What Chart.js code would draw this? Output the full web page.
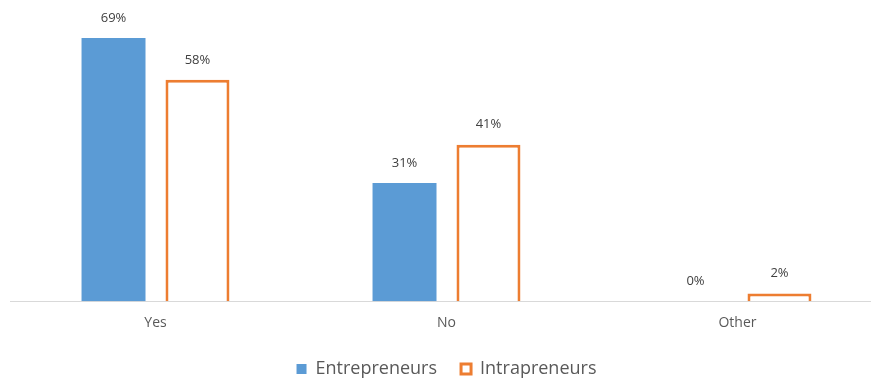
<!DOCTYPE html>
<html>
<head>
<meta charset="utf-8">
<script src="https://cdn.jsdelivr.net/npm/chart.js@4"></script>
<style>
  html, body { margin: 0; padding: 0; background: #fff; overflow: hidden; }
  #wrap { width: 910px; height: 382px; }
</style>
</head>
<body>
<div id="wrap"><canvas id="graphicmap"></canvas></div>
<script>
// categories and series
const categories = ['Yes', 'No', 'Other']
const entrepreneurs = [69, 31, 0]
const intrapreneurs = [58, 41, 2]

// draw the % labels above each bar
const valueLabels = {
    id: 'valueLabels',
    afterDatasetsDraw(chart) {
        const ctx = chart.ctx
        ctx.save()
        ctx.font = '13px "Open Sans"'
        ctx.fillStyle = '#404040'
        ctx.textAlign = 'center'
        ctx.textBaseline = 'middle'
        chart.data.datasets.forEach((ds, i) => {
            chart.getDatasetMeta(i).data.forEach((bar, j) => {
                ctx.fillText(ds.data[j] + '%', bar.x, bar.y - 20)
            })
        })
        ctx.restore()
    }
}

const config = {
    type: 'bar',
    data: {
        labels: categories,
        datasets: [{
            label: 'Entrepreneurs',
            data: entrepreneurs,
            backgroundColor: '#5B9BD5',
            borderWidth: 0
        }, {
            label: 'Intrapreneurs',
            data: intrapreneurs,
            backgroundColor: '#ffffff',
            borderColor: '#ED7D31',
            borderWidth: 3
        }]
    },
    options: {
        responsive: true,
        maintainAspectRatio: false,
        animation: false,
        categoryPercentage: 0.577,
        barPercentage: 0.762,
        layout: { padding: { left: 10, right: 27, top: 15, bottom: -6 } },
        scales: {
            x: {
                grid: { display: false },
                border: { color: '#d9d9d9', width: 1 },
                ticks: { color: '#595959', font: { family: '"Open Sans"', size: 14 }, padding: 5 }
            },
            y: {
                display: false,
                min: 0,
                max: 75
            }
        },
        plugins: {
            legend: {
                position: 'bottom',
                labels: {
                    boxWidth: 10,
                    boxHeight: 10,
                    padding: 24,
                    color: '#595959',
                    font: { family: '"Open Sans"', size: 18 }
                }
            },
            tooltip: { enabled: false }
        }
    },
    plugins: [valueLabels]
}

document.addEventListener('DOMContentLoaded', () => {
    new Chart(document.querySelector('#graphicmap'), config)
})
</script>
</body>
</html>
